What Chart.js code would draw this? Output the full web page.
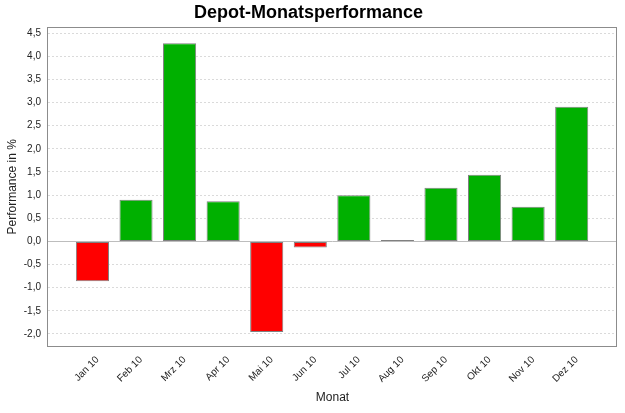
<!DOCTYPE html>
<html>
<head>
<meta charset="utf-8">
<script src="https://cdn.jsdelivr.net/npm/chart.js@4/dist/chart.umd.min.js"></script>
<style>
  html, body { margin: 0; padding: 0; background: #fff; }
  #wrap { width: 625px; height: 413px; }
</style>
</head>
<body>
<div id="wrap"><canvas id="myChart" width="625" height="413"></canvas></div>
<script>
'use strict';
// Monate und Performance-Werte (in %)
let months = ['Jan 10', 'Feb 10', 'Mrz 10', 'Apr 10', 'Mai 10', 'Jun 10', 'Jul 10', 'Aug 10', 'Sep 10', 'Okt 10', 'Nov 10', 'Dez 10'];
let performance = [-0.86, 0.90, 4.28, 0.87, -1.96, -0.13, 1.00, 0.03, 1.16, 1.44, 0.75, 2.91];
let yMin = -2.26;
let yMax = 4.62;
let yStep = 0.5;

let points = [];
let barColors = [];
for (let i = 0; i < performance.length; i++) {
  points.push({ x: i, y: performance[i] });
  barColors.push(performance[i] < 0 ? '#ff0000' : '#00b000');
}

// Rahmen um den Plotbereich
let frame = {
  id: 'frame',
  afterDraw(chart) {
    let a = chart.chartArea;
    let c = chart.ctx;
    c.save();
    c.strokeStyle = '#8c8c8c';
    c.lineWidth = 1;
    c.strokeRect(Math.round(a.left) - 0.5, Math.round(a.top) - 0.5, Math.round(a.right - a.left), Math.round(a.bottom - a.top) + 1);
    c.restore();
  }
};

let ctx = document.getElementById('myChart').getContext('2d');
let myChart = new Chart(ctx, {
  type: 'bar',
  data: {
    datasets: [{
      label: 'Performance',
      data: points,
      backgroundColor: barColors,
      borderColor: '#808080',
      borderWidth: 1,
      borderSkipped: false,
      barPercentage: 0.76,
      categoryPercentage: 1
    }]
  },
  options: {
    responsive: false,
    animation: false,
    layout: { padding: { left: 0, right: 8, top: 0, bottom: 0 } },
    plugins: {
      legend: { display: false },
      tooltip: { enabled: false },
      title: {
        display: true,
        text: 'Depot-Monatsperformance',
        color: '#000',
        font: { family: 'Liberation Sans', size: 18, weight: 'bold' },
        padding: { top: 2, bottom: 4 }
      }
    },
    scales: {
      x: {
        type: 'linear',
        min: -1.02,
        max: 12.04,
        offset: false,
        grid: { display: false, drawTicks: false },
        border: { display: false },
        afterBuildTicks(scale) {
          scale.ticks = months.map((m, i) => ({ value: i }));
        },
        afterFit(scale) { scale.height = 67; },
        ticks: {
          autoSkip: false,
          maxRotation: 45,
          minRotation: 45,
          labelOffset: 5,
          padding: 8,
          color: '#222',
          font: { family: 'Liberation Sans', size: 10 },
          callback: (v) => months[v]
        },
        title: {
          display: true,
          text: 'Monat',
          color: '#222',
          font: { family: 'Liberation Sans', size: 12 },
          padding: { top: 0, bottom: 8 }
        }
      },
      y: {
        min: yMin,
        max: yMax,
        grid: {
          drawTicks: false,
          color: (c) => c.tick && c.tick.value === 0 ? '#bdbdbd' : '#dadada',
          lineWidth: 1
        },
        border: {
          display: false,
          dash: (c) => c.tick && c.tick.value === 0 ? [] : [2, 2]
        },
        afterFit(scale) { scale.width = 48; },
        ticks: {
          stepSize: yStep,
          includeBounds: false,
          padding: 7,
          color: '#222',
          font: { family: 'Liberation Sans', size: 10 },
          callback: (v) => v.toFixed(1).replace('.', ',')
        },
        title: {
          display: true,
          text: 'Performance in %',
          color: '#222',
          font: { family: 'Liberation Sans', size: 12 },
          padding: { top: 5, bottom: 0 }
        }
      }
    }
  },
  plugins: [frame]
});
</script>
</body>
</html>
